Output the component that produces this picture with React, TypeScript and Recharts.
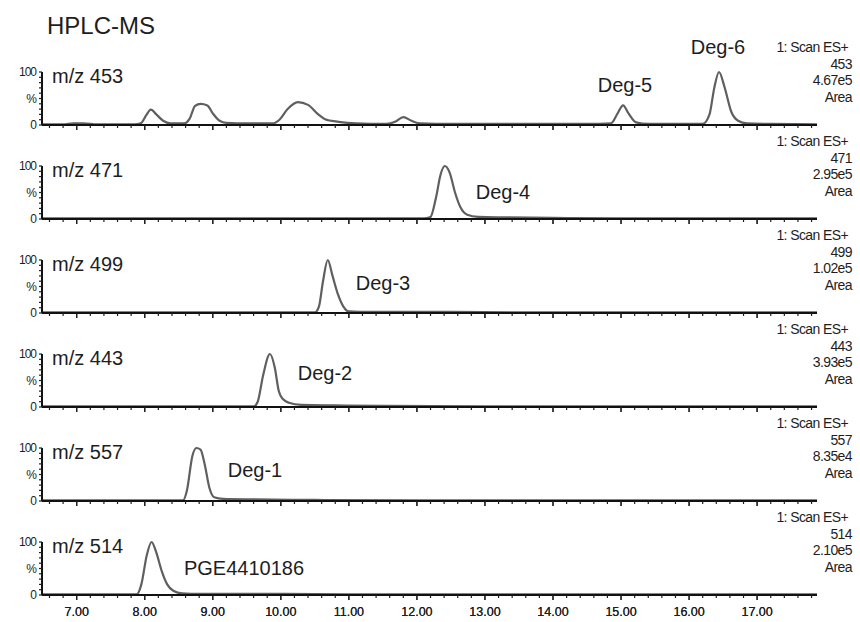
import { LineChart, Line, XAxis, YAxis } from 'recharts';

// retention time (min) vs relative intensity (%)
const trace453: Array<[number, number]> = [
  [6.49, 1], [6.8, 1], [6.95, 3], [7.1, 3], [7.3, 1], [7.85, 1], [7.95, 4], [8.02, 18],
  [8.09, 29], [8.17, 20], [8.27, 8], [8.38, 3], [8.58, 3], [8.66, 12], [8.74, 36], [8.82, 40],
  [8.92, 37], [9.0, 22], [9.1, 8], [9.2, 4], [9.5, 3], [9.88, 3], [9.98, 10], [10.1, 30],
  [10.25, 43], [10.4, 38], [10.55, 20], [10.65, 11], [10.85, 6], [11.1, 3], [11.55, 2],
  [11.68, 6], [11.8, 15], [11.92, 8], [12.05, 3], [12.5, 2], [13.5, 2], [14.5, 2], [14.85, 3],
  [14.95, 22], [15.03, 37], [15.11, 22], [15.22, 5], [15.4, 2], [16.2, 2], [16.3, 20],
  [16.37, 70], [16.44, 100], [16.52, 72], [16.62, 25], [16.72, 8], [16.85, 3], [17.2, 2], [17.88, 1],
];
const trace471: Array<[number, number]> = [
  [6.49, 1], [9, 1], [12.1, 1], [12.2, 4], [12.28, 40], [12.35, 85], [12.41, 100], [12.48, 88],
  [12.56, 50], [12.64, 22], [12.74, 8], [12.9, 4], [13.3, 3], [14.0, 2], [15, 1], [17.88, 1],
];
const trace499: Array<[number, number]> = [
  [6.49, 1], [10.5, 1], [10.56, 12], [10.62, 60], [10.69, 100], [10.76, 70], [10.84, 35],
  [10.92, 12], [11.0, 3], [11.3, 2], [12.5, 2], [13.5, 1], [17.88, 1],
];
const trace443: Array<[number, number]> = [
  [6.49, 1], [9.6, 1], [9.66, 10], [9.74, 60], [9.84, 100], [9.91, 75], [9.97, 30], [10.03, 15],
  [10.12, 8], [10.3, 4], [10.8, 3], [11.5, 2], [13, 1], [17.88, 1],
];
const trace557: Array<[number, number]> = [
  [6.49, 1], [8.56, 1], [8.62, 20], [8.7, 85], [8.76, 100], [8.82, 97], [8.88, 70], [8.95, 25],
  [9.02, 7], [9.15, 4], [9.6, 3], [10.5, 2], [12, 1], [17.88, 1],
];
const trace514: Array<[number, number]> = [
  [6.49, 1], [7.88, 1], [7.95, 20], [8.03, 75], [8.1, 100], [8.17, 80], [8.25, 45], [8.33, 20],
  [8.42, 8], [8.55, 3], [8.8, 2], [10, 2], [11, 1], [17.88, 1],
];

const traces = [trace453, trace471, trace499, trace443, trace557, trace514];
const massLabels = ['m/z 453', 'm/z 471', 'm/z 499', 'm/z 443', 'm/z 557', 'm/z 514'];
const scanMasses = ['453', '471', '499', '443', '557', '514'];
const scanTotals = ['4.67e5', '2.95e5', '1.02e5', '3.93e5', '8.35e4', '2.10e5'];

const majorTicks = [7, 8, 9, 10, 11, 12, 13, 14, 15, 16, 17];
const minorTicks: number[] = [];
for (let t = 6.6; t < 17.85; t += 0.2) minorTicks.push(Math.round(t * 10) / 10);
const intensityTicks = [0, 10, 20, 30, 40, 50, 60, 70, 80, 90, 100];
const intensityLabels: Record<number, string> = { 0: '0', 50: '%', 100: '100' };

const FONT = '"Liberation Sans", Arial, sans-serif';
const INK = '#1e1e1e';
const TRACE = '#5f5f5f';

const FIRST_BASE = 125;
const PANEL_STEP = 94;
const PLOT_H = 53;
const TOP_PAD = 12;

const TimeTick = ({ x, y, payload, showLabel }: any) => {
  const major = majorTicks.includes(payload.value);
  return (
    <g>
      <line x1={x} x2={x} y1={y} y2={y + (major ? 5 : 3)} stroke={INK} strokeWidth={1.2} />
      {showLabel && major && (
        <text x={x} y={y + 21} textAnchor="middle" fontSize={12.5} fill={INK} fontFamily={FONT}>
          {payload.value.toFixed(2)}
        </text>
      )}
    </g>
  );
};

const IntensityTick = ({ x, y, payload }: any) => {
  const label = intensityLabels[payload.value];
  return (
    <g>
      <line x1={x} x2={x - 3} y1={y} y2={y} stroke={INK} strokeWidth={1.2} />
      {label && (
        <text x={x - 6} y={y + 4} textAnchor="end" fontSize={12} fill={INK} fontFamily={FONT} letterSpacing={-1}>
          {label}
        </text>
      )}
    </g>
  );
};

const Panel = ({ points, bottom }: { points: Array<[number, number]>; bottom: boolean }) => {
  const data = points.map(([t, v]) => ({ t, v }));
  const axisH = bottom ? 28 : 10;
  return (
    <LineChart
      width={860}
      height={TOP_PAD + PLOT_H + axisH}
      data={data}
      margin={{ top: TOP_PAD, right: 43, bottom: 0, left: 8 }}
    >
      <XAxis
        type="number"
        dataKey="t"
        domain={[6.49, 17.88]}
        ticks={[...minorTicks, ...majorTicks].sort((a, b) => a - b)}
        interval={0}
        height={axisH}
        tickSize={0}
        tickMargin={0}
        tickLine={false}
        axisLine={{ stroke: '#111', strokeWidth: 2 }}
        tick={(props: any) => <TimeTick {...props} showLabel={bottom} />}
      />
      <YAxis
        type="number"
        domain={[0, 100]}
        ticks={intensityTicks}
        interval={0}
        width={34}
        tickSize={0}
        tickMargin={0}
        tickLine={false}
        axisLine={{ stroke: '#111', strokeWidth: 2 }}
        tick={(props: any) => <IntensityTick {...props} />}
      />
      <Line
        type="monotone"
        dataKey="v"
        stroke={TRACE}
        strokeWidth={2.2}
        dot={false}
        isAnimationActive={false}
      />
    </LineChart>
  );
};

export default function App() {
  const baseOf = (i: number) => FIRST_BASE + i * PANEL_STEP;
  const peakNotes = [
    { text: 'Deg-6', x: 718, y: 47 },
    { text: 'Deg-5', x: 625, y: 85 },
    { text: 'Deg-4', x: 503, y: 192 },
    { text: 'Deg-3', x: 383, y: 283 },
    { text: 'Deg-2', x: 325, y: 373 },
    { text: 'Deg-1', x: 255, y: 470 },
    { text: 'PGE4410186', x: 244, y: 568 },
  ];
  return (
    <div style={{ position: 'absolute', left: 0, top: 0, width: 860, height: 622, background: '#fff' }}>
      {traces.map((points, i) => (
        <div key={i} style={{ position: 'absolute', left: 0, top: baseOf(i) - PLOT_H - TOP_PAD }}>
          <Panel points={points} bottom={i === traces.length - 1} />
        </div>
      ))}
      <svg
        width={860}
        height={622}
        style={{ position: 'absolute', left: 0, top: 0, pointerEvents: 'none' }}
        fontFamily={FONT}
        fill={INK}
      >
        <text x={47} y={25} fontSize={24} dominantBaseline="central">HPLC-MS</text>
        {massLabels.map((label, i) => (
          <text key={label} x={52} y={baseOf(i) - 49} fontSize={20} dominantBaseline="central">
            {label}
          </text>
        ))}
        {scanMasses.map((mass, i) => (
          <g key={mass} fontSize={14} textAnchor="end" letterSpacing={-0.6}>
            <text x={848} y={baseOf(i) - 78} dominantBaseline="central">1: Scan ES+</text>
            <text x={852} y={baseOf(i) - 61} dominantBaseline="central">{mass}</text>
            <text x={852} y={baseOf(i) - 45} dominantBaseline="central">{scanTotals[i]}</text>
            <text x={852} y={baseOf(i) - 28} dominantBaseline="central">Area</text>
          </g>
        ))}
        {peakNotes.map((note) => (
          <text key={note.text} x={note.x} y={note.y} fontSize={20} textAnchor="middle" dominantBaseline="central">
            {note.text}
          </text>
        ))}
      </svg>
    </div>
  );
}
